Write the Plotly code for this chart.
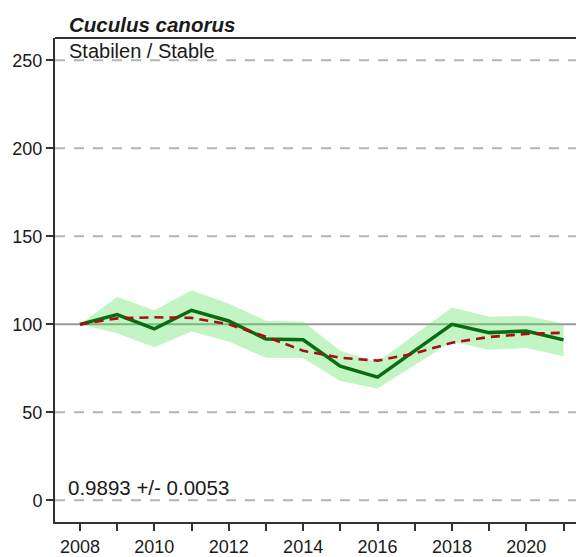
import plotly.graph_objects as go

years = list(range(2008, 2022))
index_values = [100, 105.6, 97.4, 108, 101.9, 91.7, 91.2, 76.2, 70, 85, 100, 95.3, 96.2, 91.2]
upper_ci = [100, 115.5, 108, 119.3, 111.8, 102, 101.5, 85, 78.6, 94, 109.6, 104.3, 104.8, 100.5]
lower_ci = [100, 95, 87, 96, 90.2, 81, 80.9, 67.8, 63.6, 77, 90.2, 85.6, 86.5, 81.9]
trend_values = [100, 103.4, 104, 103.7, 100, 93, 85, 81, 79.4, 83.5, 89.6, 92.8, 94.6, 95.2]

y_ticks = [0, 50, 100, 150, 200, 250]
x_tick_labels = [str(y) if y % 2 == 0 else "" for y in years]
dashed_grid = [0, 50, 150, 200, 250]
reference_line = 100

title = "<b><i>Cuculus canorus</i></b>"
status = "Stabilen / Stable"
slope_text = "0.9893 +/- 0.0053"

FONT = "Liberation Sans, Arial, sans-serif"

fig = go.Figure()

fig.add_trace(go.Scatter(x=years, y=lower_ci, mode="lines", line=dict(width=0),
                         showlegend=False, hoverinfo="skip"))
fig.add_trace(go.Scatter(x=years, y=upper_ci, mode="lines", line=dict(width=0),
                         fill="tonexty", fillcolor="rgba(90,225,90,0.36)",
                         showlegend=False, hoverinfo="skip"))
fig.add_trace(go.Scatter(x=years, y=index_values, mode="lines",
                         line=dict(color="#0b6b12", width=3.5), showlegend=False))
fig.add_trace(go.Scatter(x=years, y=trend_values, mode="lines",
                         line=dict(color="#a80f14", width=2.6, dash="9px,6px"),
                         showlegend=False))

shapes = []
for g in dashed_grid:
    shapes.append(dict(type="line", xref="paper", x0=0, x1=1, yref="y", y0=g, y1=g,
                       line=dict(color="#b4b4b4", width=2, dash="10px,9px"), layer="below"))
shapes.append(dict(type="line", xref="paper", x0=0, x1=1, yref="y", y0=reference_line, y1=reference_line,
                   line=dict(color="#9a9a9a", width=2), layer="below"))
shapes.append(dict(type="line", xref="paper", x0=0, x1=1, yref="paper", y0=1, y1=1,
                   line=dict(color="#333333", width=2)))

fig.update_layout(
    width=576, height=549,
    margin=dict(l=47, r=0, t=30, b=32, pad=0),
    plot_bgcolor="white", paper_bgcolor="white",
    font=dict(family=FONT, size=18, color="#1a1a1a"),
    shapes=shapes,
    xaxis=dict(range=[2007.33, 2021.55], tickvals=years, ticktext=x_tick_labels,
               showgrid=False, zeroline=False, showline=True, linecolor="#333333", linewidth=2,
               ticks="outside", ticklen=7, tickwidth=2, tickcolor="#333333",
               tickfont=dict(size=18)),
    yaxis=dict(range=[-12.3, 262.7], tickvals=y_ticks, showgrid=False, zeroline=False,
               showline=True, linecolor="#333333", linewidth=2,
               ticks="outside", ticklen=7, tickwidth=2, tickcolor="#333333",
               tickfont=dict(size=18)),
    annotations=[
        dict(text=title, xref="paper", yref="paper", x=0.022, y=1.0277, xanchor="left", yanchor="middle",
             showarrow=False, font=dict(size=20.5, color="#1a1a1a")),
        dict(text=status, xref="paper", yref="paper", x=0.022, y=0.9723, xanchor="left", yanchor="middle",
             showarrow=False, font=dict(size=20, color="#1a1a1a")),
        dict(text=slope_text, xref="paper", yref="y", x=0.02, y=7.2, xanchor="left", yanchor="middle",
             showarrow=False, font=dict(size=20.5, color="#1a1a1a")),
    ],
)

fig.write_html("out.html")
